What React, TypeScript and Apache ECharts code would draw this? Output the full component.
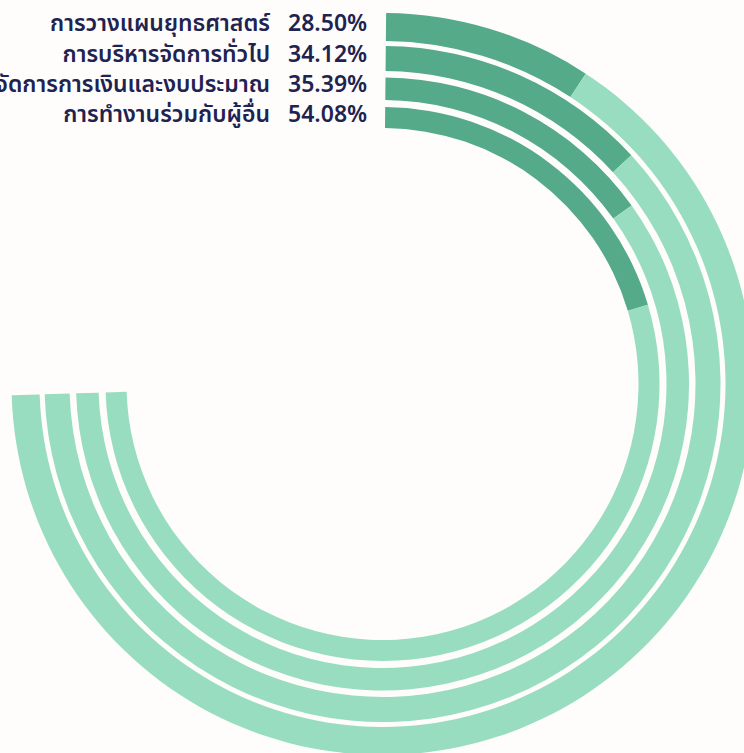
import React, { useEffect, useRef } from "react";
import * as echarts from "echarts";

// Categories, outer ring first
const categories = [
  "การวางแผนยุทธศาสตร์",
  "การบริหารจัดการทั่วไป",
  "การจัดการการเงินและงบประมาณ",
  "การทำงานร่วมกับผู้อื่น",
];
// Percentages shown in the labels
const labelValues = [28.5, 34.12, 35.39, 54.08];
// Dark arc length of each ring, as % of the 270° track
const progressValues = [12.2, 17.5, 20.1, 27.2];
const trackTotal = 100;

const ringRadii = [
  [343, 371],
  [313, 338],
  [284, 306.5],
  [256, 277],
];
const labelY = [24, 54.5, 85, 114.5];

const DARK = "#54aa89";
const LIGHT = "#98ddc0";
const TEXT = "#1f2350";
const FONT = "'Noto Sans Thai', 'Noto Sans', sans-serif";

export default function App() {
  const ref = useRef<HTMLDivElement>(null);
  useEffect(() => {
    if (!ref.current) return;
    const chart = echarts.init(ref.current, undefined, { renderer: "svg" });
    const center = [382.5, 384];
    const polar = ringRadii.map((r) => ({ center, radius: r }));
    const angleAxis = ringRadii.map((_, i) => ({
      polarIndex: i,
      type: "value",
      min: 0,
      max: 134.48,
      startAngle: 89.44,
      clockwise: true,
      show: false,
    }));
    const radiusAxis = ringRadii.map((_, i) => ({
      polarIndex: i,
      type: "category",
      data: [categories[i]],
      show: false,
    }));
    const series: any[] = [];
    categories.forEach((name, i) => {
      series.push({
        type: "bar",
        name,
        coordinateSystem: "polar",
        polarIndex: i,
        stack: "ring" + i,
        barCategoryGap: "0%",
        data: [progressValues[i]],
        itemStyle: { color: DARK },
        silent: true,
      });
      series.push({
        type: "bar",
        name: name + "-track",
        coordinateSystem: "polar",
        polarIndex: i,
        stack: "ring" + i,
        barCategoryGap: "0%",
        data: [trackTotal - progressValues[i]],
        itemStyle: { color: LIGHT },
        silent: true,
      });
    });
    const textStyle = {
      verticalAlign: "middle",
      fontSize: 23,
      lineHeight: 26,
      fontWeight: 600,
      fontFamily: FONT,
      fill: TEXT,
    };
    const graphic: any[] = [];
    categories.forEach((name, i) => {
      graphic.push({
        type: "text",
        x: 270,
        y: labelY[i],
        style: { ...textStyle, text: name, align: "right" },
      });
      graphic.push({
        type: "text",
        x: 288,
        y: labelY[i],
        style: {
          ...textStyle,
          text: labelValues[i].toFixed(2) + "%",
          align: "left",
        },
      });
    });
    chart.setOption({
      animation: false,
      backgroundColor: "#fefdfc",
      polar,
      angleAxis,
      radiusAxis,
      series,
      graphic,
    });
    return () => chart.dispose();
  }, []);
  return (
    <div
      ref={ref}
      style={{ position: "absolute", left: 0, top: 0, width: 744, height: 753 }}
    />
  );
}
